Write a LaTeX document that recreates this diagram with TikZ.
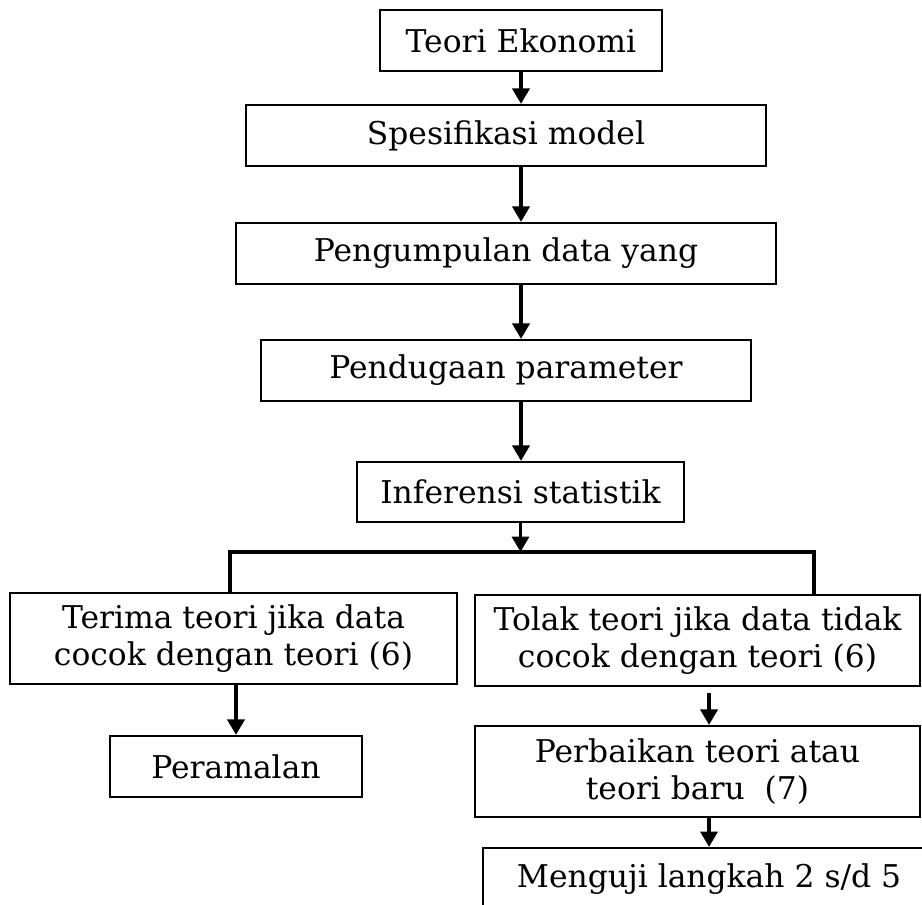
\documentclass[tikz,border=0pt]{standalone}
\usepackage{fontspec}
\setmainfont{DejaVu Serif}
\usetikzlibrary{arrows, arrows.meta}
\usetikzlibrary{calc}

\tikzset{
  kotak/.style 2 args={draw, line width=1.5pt, align=center, inner sep=0pt,
    minimum width=#1*0.025cm, minimum height=#2*0.025cm,
    font=\fontsize{22.3}{26.2}\selectfont},
  panah/.style={line width=2.8pt, -{Triangle[length=11pt, width=12pt]}},
  cabang/.style={line width=2.8pt}
}

\begin{document}
\begin{tikzpicture}[x=0.025cm, y=-0.025cm]
      \useasboundingbox (0,0) rectangle (922,904);
      \clip (0,0) rectangle (922,904);

      \node[kotak={282}{61}] (teori) at (521,40.5) {Teori Ekonomi};
      \node[kotak={520}{61}] (spesifikasi) at (506,135.5) {Spesifikasi model};
      \node[kotak={540}{61}] (pengumpulan) at (506,253.5) {Pengumpulan data yang};
      \node[kotak={490}{61}] (pendugaan) at (506,370.5) {Pendugaan parameter};
      \node[kotak={327}{60}] (inferensi) at (520.5,492) {Inferensi statistik};

      \node[kotak={447}{91}] (terima) at (233.5,638.5) {Terima teori jika data\\cocok dengan teori (6)};
      \node[kotak={445}{91}] (tolak) at (697.5,640.5) {Tolak teori jika data tidak\\cocok dengan teori (6)};
      \node[kotak={252}{61}] (peramalan) at (236,766.5) {Peramalan};
      \node[kotak={445}{91}] (perbaikan) at (697.5,771.5) {Perbaikan teori atau\\teori baru~~(7)};
      \node[kotak={452}{62}, anchor=north west] (menguji) at (482,847) {Menguji langkah 2 s/d 5};

      \coordinate (kiri) at (230,552);
      \coordinate (kanan) at (814,552);

      \draw[panah] (teori) -- (teori |- spesifikasi.north);
      \draw[panah] (spesifikasi.south -| teori) -- (pengumpulan.north -| teori);
      \draw[panah] (pengumpulan.south -| teori) -- (pendugaan.north -| teori);
      \draw[panah] (pendugaan.south -| teori) -- (inferensi.north -| teori);
      \draw[panah] (inferensi) -- (inferensi |- kiri);
      \draw[cabang] (terima.north -| kiri) -- (kiri) -- (kanan) -- (tolak.north -| kanan);
      \draw[panah] (terima.south -| peramalan) -- (peramalan);
      \draw[panah, shorten <=4pt] (tolak.south -| menguji) -- (perbaikan.north -| menguji);
      \draw[panah] (perbaikan.south -| menguji) -- (menguji);
    \end{tikzpicture}
\end{document}
